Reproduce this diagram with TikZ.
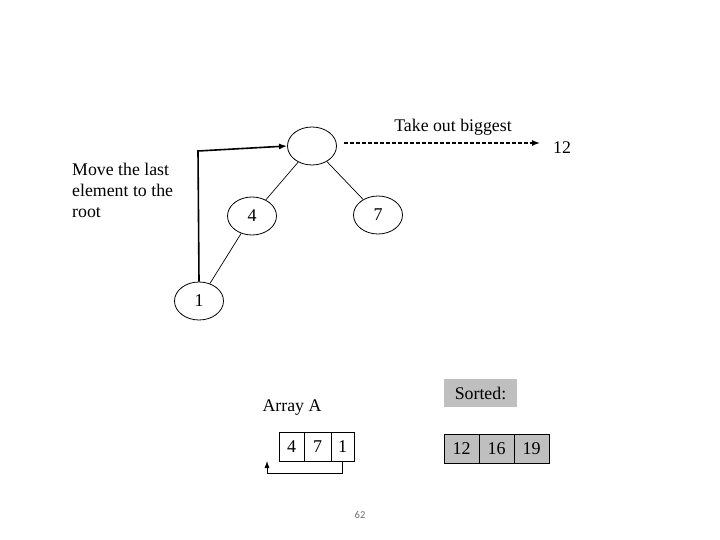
\documentclass[tikz,border=0pt]{standalone}
\usepackage{fontspec}
\setmainfont{Liberation Serif}
\newfontfamily\slidefont{Carlito}
\usetikzlibrary{shapes.geometric,arrows.meta}
\definecolor{cellgray}{RGB}{191,191,191}
\definecolor{numgray}{RGB}{110,110,110}
\tikzset{
  heapnode/.style={draw,ellipse,line width=0.8pt,inner sep=0pt,minimum width=49pt,minimum height=38pt,font=\fontsize{18}{20}\selectfont},
  treeedge/.style={line width=0.7pt},
  lbl/.style={inner sep=0pt,font=\fontsize{17.8}{21}\selectfont},
  acell/.style={draw,line width=0.8pt,inner sep=0pt,minimum height=29pt,font=\fontsize{18}{20}\selectfont},
  scell/.style={acell,fill=cellgray},
}
\begin{document}
\begin{tikzpicture}[x=1pt,y=-1pt]
\useasboundingbox (0,0) rectangle (720,540);
% tree
\node[heapnode] (root) at (312,146) {};
\node[heapnode] (n4) at (252,216) {4};
\node[heapnode] (n7) at (378,215) {7};
\node[heapnode] (n1) at (199,301) {1};
\draw[treeedge] (root) -- (n4);
\draw[treeedge] (root) -- (n7);
\draw[treeedge] (n4) -- (n1);
% move last to root
\coordinate (c1) at (198,151);
\draw[line width=1.6pt,-{Latex[length=8pt,width=6pt]}] (n1.north) -- (c1) -- (root.west);
% take out biggest
\coordinate (d2) at (540,143);
\draw[line width=1.4pt,dash pattern=on 4pt off 2pt,-{Latex[length=8pt,width=6pt]}] ([xshift=7pt,yshift=3pt]root.east) -- (d2);
\node[lbl] (take) at (453,127) {Take out biggest};
\node[lbl] (twelve) at (562,148) {12};
\node[lbl,align=left,anchor=north west] (move) at (72,163) {Move the last\\element to the\\root};
% array A
\node[lbl] (arrA) at (292,408) {Array A};
\node[acell,minimum width=25pt] (a1) at (291.5,446.5) {4};
\node[acell,minimum width=27pt] (a2) at (317.5,446.5) {7};
\node[acell,minimum width=23pt] (a3) at (342.5,446.5) {1};
\coordinate (c2) at (267,461);
\draw[line width=0.8pt,-{Latex[length=7pt,width=5pt]}] (a3.south) -- ++(0,11.5) -| (c2);
% sorted
\node[fill=cellgray,minimum width=73pt,minimum height=28pt,inner sep=0pt,font=\fontsize{17.8}{20}\selectfont] (sorted) at (480.5,393) {Sorted:};
\node[scell,minimum width=35pt] (s1) at (461.5,448.5) {12};
\node[scell,minimum width=35pt] (s2) at (496.5,448.5) {16};
\node[scell,minimum width=35pt] (s3) at (531.5,448.5) {19};
% slide number
\node[inner sep=0pt,text=numgray,font=\slidefont\fontsize{10.5}{12}\selectfont] (pg) at (360,515) {62};
\end{tikzpicture}
\end{document}
